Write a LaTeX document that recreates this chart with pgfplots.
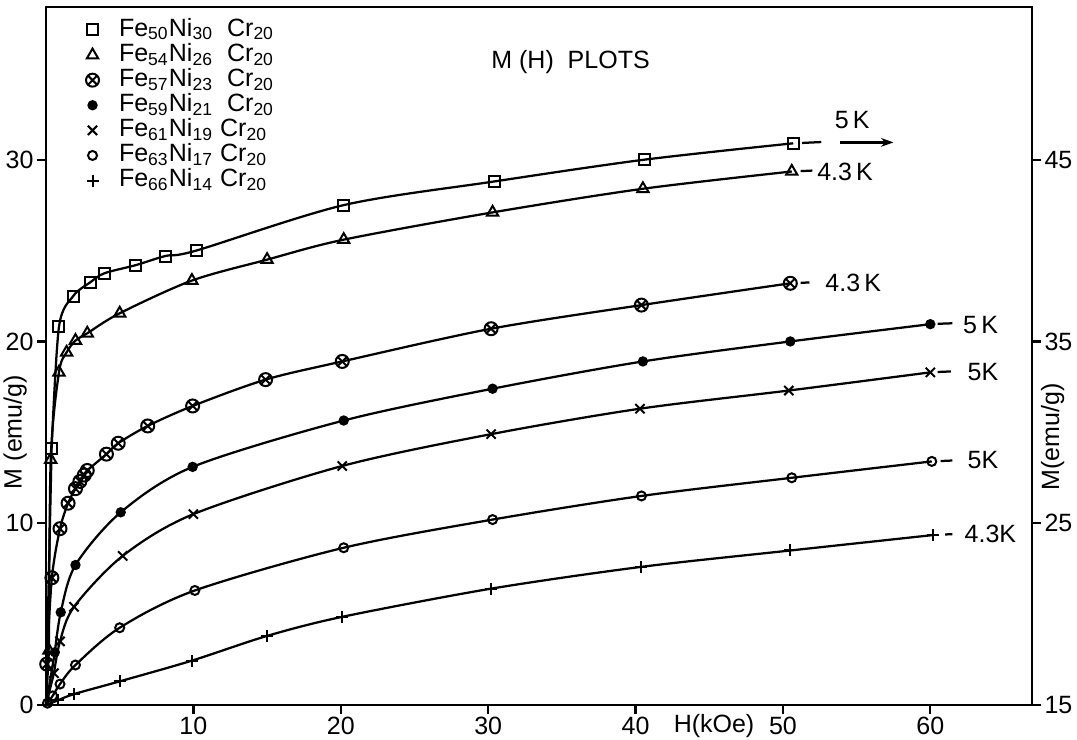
\documentclass[border=0pt]{standalone}
\usepackage{fontspec}
\setmainfont{Liberation Sans}
\usepackage{pgfplots}
\pgfplotsset{compat=1.18}
\usetikzlibrary{arrows.meta}
\begin{document}
\begin{tikzpicture}[font=\fontsize{10}{12}\selectfont]
\begin{axis}[name=ax, scale only axis, width=394.4pt, height=279.2pt,
  xmin=0, xmax=66.9, ymin=0, ymax=38.4,
  axis line style={line width=0.9pt},
  xtick={10,20,30,40,50,60}, ytick={0,10,20,30},
  xtick pos=left, ytick pos=left, tick align=outside,
  major tick length=3.6pt,
  every tick/.style={black, line width=0.9pt},
  /pgf/number format/assume math mode=true,
  ticklabel style={font=\fontsize{10}{12}\selectfont, inner sep=1.2pt},
  every axis plot/.append style={line width=0.9pt, black, smooth, tension=0.5},
  legend style={at={(axis description cs:0.0406,0.9847)}, anchor=north west,
    draw=none, fill=none, inner sep=0pt, outer sep=0pt,
    font=\fontsize{10}{12}\selectfont, row sep=0.2pt, column sep=8pt,
    nodes={inner sep=0pt, text height=7.4pt, text depth=2.44pt, anchor=west}},
  legend cell align=left,
  legend image code/.code={\draw[#1] plot coordinates {(0cm,0cm)};},
  clip=false]

% segments from the origin (no marks)
\addplot[forget plot, no marks] coordinates {(0,0) (0.38,14.1)};
\addplot[forget plot, no marks] coordinates {(0,0) (0.2,3.0)};
\addplot[forget plot, no marks] coordinates {(0,0) (0.6,2.9)};
\addplot[forget plot, no marks] coordinates {(0,0) (0.54,1.75)};
\addplot[forget plot, no marks] coordinates {(0,0) (0.8,0.25)};

% Fe50Ni30Cr20
\addplot[mark=square, mark size=2.2pt, mark options={solid, fill=white, line width=0.8pt}] coordinates {
(0.38,14.1) (0.88,20.8) (1.85,22.5) (3.0,23.25) (3.96,23.75) (6.1,24.2) (8.1,24.7) (10.2,25.0) (20.2,27.5) (30.4,28.8) (40.6,30.0) (50.7,30.9)};
\addlegendentry{Fe\textsubscript{50}Ni\textsubscript{30}\ \ Cr\textsubscript{20}}
% Fe54Ni26Cr20
\addplot[mark=triangle, mark size=2.6pt, mark options={solid, fill=white, line width=0.8pt}] coordinates {
(0.2,3.0) (0.32,13.5) (0.88,18.3) (1.4,19.4) (2.0,20.05) (2.8,20.45) (5.0,21.55) (9.9,23.35) (15.0,24.5) (20.2,25.6) (30.3,27.1) (40.5,28.4) (50.6,29.35)};
\addlegendentry{Fe\textsubscript{54}Ni\textsubscript{26}\ \ Cr\textsubscript{20}}
% Fe57Ni23Cr20
\addplot[mark=otimes, mark size=2.6pt, mark options={solid, fill=white, line width=0.8pt}] coordinates {
(0.05,2.25) (0.4,7.0) (0.95,9.7) (1.5,11.1) (2.0,11.9) (2.3,12.3) (2.6,12.65) (2.8,12.9) (4.1,13.8) (4.9,14.4) (6.9,15.35) (9.95,16.45) (14.9,17.9) (20.1,18.9) (30.2,20.7) (40.4,22.0) (50.5,23.2)};
\addlegendentry{Fe\textsubscript{57}Ni\textsubscript{23}\ \ Cr\textsubscript{20}}
% Fe59Ni21Cr20
\addplot[mark=*, mark size=1.6pt, mark options={solid}] coordinates {
(0.6,2.9) (1.0,5.1) (2.0,7.7) (5.07,10.6) (9.95,13.1) (20.2,15.65) (30.3,17.4) (40.5,18.9) (50.5,20.0) (60.0,20.95)};
\addlegendentry{Fe\textsubscript{59}Ni\textsubscript{21}\ \ Cr\textsubscript{20}}
% Fe61Ni19Cr20
\addplot[mark=x, mark size=2.6pt, mark options={solid, line width=0.8pt}] coordinates {
(0.54,1.75) (0.95,3.5) (1.9,5.4) (5.2,8.2) (10.0,10.5) (20.1,13.15) (30.2,14.9) (40.3,16.3) (50.4,17.3) (60.0,18.3)};
\addlegendentry{Fe\textsubscript{61}Ni\textsubscript{19}\ Cr\textsubscript{20}}
% Fe63Ni17Cr20
\addplot[mark=o, mark size=1.8pt, mark options={solid, fill=white, line width=0.8pt}] coordinates {
(0.1,0.1) (0.45,0.5) (0.95,1.15) (2.0,2.2) (5.0,4.25) (10.1,6.3) (20.2,8.65) (30.3,10.2) (40.4,11.5) (50.6,12.5) (60.1,13.4)};
\addlegendentry{Fe\textsubscript{63}Ni\textsubscript{17}\ Cr\textsubscript{20}}
% Fe66Ni14Cr20
\addplot[mark=+, mark size=2.4pt, mark options={solid, line width=0.8pt}] coordinates {
(0.8,0.25) (1.9,0.6) (5.0,1.3) (9.9,2.44) (15.0,3.8) (20.1,4.85) (30.2,6.4) (40.4,7.6) (50.5,8.5) (60.2,9.35)};
\addlegendentry{Fe\textsubscript{66}Ni\textsubscript{14}\ Cr\textsubscript{20}}

% end dashes
\draw[line width=0.9pt] (axis cs:51.3,30.92) -- (axis cs:52.6,30.97);
\draw[line width=0.9pt] (axis cs:51.2,29.37) -- (axis cs:52.0,29.4);
\draw[line width=0.9pt] (axis cs:51.2,23.22) -- (axis cs:51.8,23.25);
\draw[line width=0.9pt] (axis cs:60.5,20.97) -- (axis cs:61.5,21.0);
\draw[line width=0.9pt] (axis cs:60.5,18.32) -- (axis cs:61.4,18.35);
\draw[line width=0.9pt] (axis cs:60.7,13.42) -- (axis cs:61.5,13.45);
\draw[line width=0.9pt] (axis cs:61.0,9.38) -- (axis cs:61.5,9.4);
\draw[line width=0.9pt, -{Stealth[length=5pt,width=3.5pt]}] (axis cs:53.9,30.95) -- (axis cs:57.5,30.95);

\node[inner sep=0pt] at (axis cs:54.7,32.2) {5\,K};
\node[inner sep=0pt, anchor=west] at (axis cs:52.3,29.35) {4.3\,K};
\node[inner sep=0pt, anchor=west] at (axis cs:52.85,23.2) {4.3\,K};
\node[inner sep=0pt, anchor=west] at (axis cs:62.2,20.9) {5\,K};
\node[inner sep=0pt, anchor=west] at (axis cs:62.5,18.3) {5K};
\node[inner sep=0pt, anchor=west] at (axis cs:62.5,13.5) {5K};
\node[inner sep=0pt, anchor=west] at (axis cs:62.3,9.4) {4.3K};

\node at (axis description cs:0.532,0.921) {M (H)\ \ PLOTS};
\node[rotate=90] at (axis description cs:-0.0314,0.391) {M (emu/g)};
\node at (axis description cs:0.6775,-0.030) {H(kOe)};
\node[rotate=90] at (axis description cs:1.021,0.384) {M(emu/g)};
\end{axis}
\begin{axis}[at={(ax.south west)}, anchor=south west, scale only axis,
  width=394.4pt, height=279.2pt,
  xmin=0, xmax=66.9, ymin=15, ymax=53.4,
  axis x line=none, axis y line*=right,
  axis line style={line width=0.9pt, -},
  ytick={15,25,35,45}, tick align=outside,
  major tick length=3.6pt,
  every tick/.style={black, line width=0.9pt},
  /pgf/number format/assume math mode=true,
  ticklabel style={font=\fontsize{10}{12}\selectfont, inner sep=1.2pt}]
\addplot[draw=none] coordinates {(10,20)};
\end{axis}
\pgfresetboundingbox
\path ([shift={(-18.4pt,-14pt)}]ax.south west) rectangle ([shift={(18pt,2.8pt)}]ax.north east);
\end{tikzpicture}
\end{document}
